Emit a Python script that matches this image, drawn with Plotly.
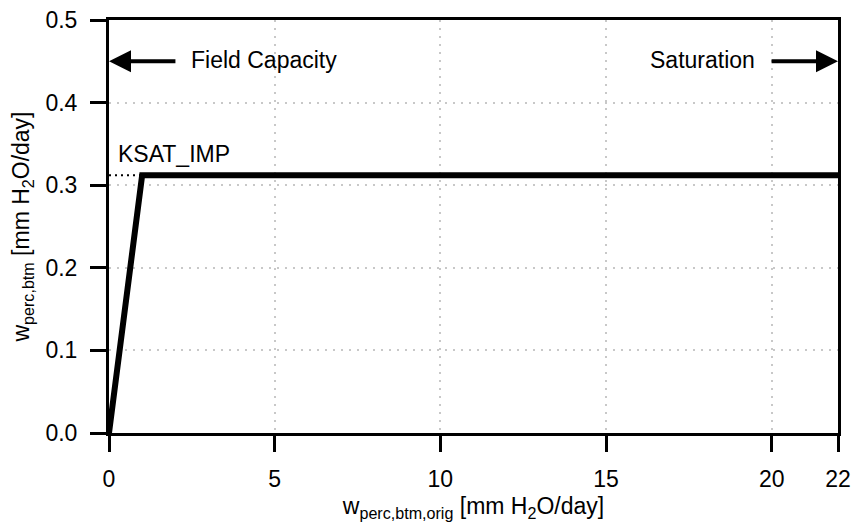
import plotly.graph_objects as go

# Percolation curve: bottom-layer percolation vs. original percolation
w_orig = [0.0, 1.0, 22.0]
w_btm = [0.0, 0.312, 0.312]

# Saturated conductivity of the impervious layer (dotted reference)
ksat_x = [0.0, 1.0]
ksat_y = [0.312, 0.312]

x_ticks = [0, 5, 10, 15, 20, 22]
y_ticks = [0.0, 0.1, 0.2, 0.3, 0.4, 0.5]
y_tick_text = ["0.0", "0.1", "0.2", "0.3", "0.4", "0.5"]

# Arrow annotations: (head x, tail x, y)
fc_arrow = (0.0, 2.05, 0.45)
sat_arrow = (22.0, 19.95, 0.45)

FONT = "Liberation Sans, Arial, sans-serif"
FS = 23
GRID = "#c8c8c8"

fig = go.Figure()

fig.add_trace(go.Scatter(
    x=ksat_x, y=ksat_y, mode="lines",
    line=dict(color="black", width=2, dash="2px,4px"),
    hoverinfo="skip", showlegend=False,
))
fig.add_trace(go.Scatter(
    x=w_orig, y=w_btm, mode="lines",
    line=dict(color="black", width=6),
    showlegend=False,
))

arrow_style = dict(showarrow=True, arrowhead=2, arrowsize=1.1, arrowwidth=4,
                   arrowcolor="black", axref="x", ayref="y", text="")
fig.add_annotation(x=fc_arrow[0], y=fc_arrow[2], ax=fc_arrow[1], ay=fc_arrow[2], **arrow_style)
fig.add_annotation(x=sat_arrow[0], y=sat_arrow[2], ax=sat_arrow[1], ay=sat_arrow[2], **arrow_style)

fig.add_annotation(x=2.4, y=0.452, text="Field Capacity", showarrow=False,
                   xanchor="left", yanchor="middle")
fig.add_annotation(x=19.57, y=0.452, text="Saturation", showarrow=False,
                   xanchor="right", yanchor="middle")
fig.add_annotation(x=0.22, y=0.338, text="KSAT_IMP", showarrow=False,
                   xanchor="left", yanchor="middle")

axis_common = dict(
    showline=True, linecolor="black", linewidth=3, mirror=True,
    ticks="outside", ticklen=16, tickwidth=3, tickcolor="black",
    showgrid=True, gridcolor=GRID, gridwidth=2, griddash="2px,6px",
    zeroline=False, tickfont=dict(size=FS, color="black", family=FONT),
)

fig.update_xaxes(
    range=[0, 22], tickvals=x_ticks, ticktext=[str(v) for v in x_ticks],
    title=dict(text="w<sub>perc,btm,orig</sub> [mm H<sub>2</sub>O/day]",
               font=dict(size=FS, color="black", family=FONT), standoff=10),
    ticklabelstandoff=7,
    **axis_common,
)
fig.update_yaxes(
    range=[0, 0.5], tickvals=y_ticks, ticktext=y_tick_text,
    title=dict(text="w<sub>perc,btm</sub> [mm H<sub>2</sub>O/day]",
               font=dict(size=FS, color="black", family=FONT), standoff=10),
    ticklabelstandoff=8,
    **axis_common,
)

fig.update_layout(
    width=855, height=522,
    margin=dict(l=109, r=17, t=20, b=89, autoexpand=False),
    paper_bgcolor="white", plot_bgcolor="white",
    font=dict(family=FONT, size=FS, color="black"),
)

fig.write_html("out.html")
